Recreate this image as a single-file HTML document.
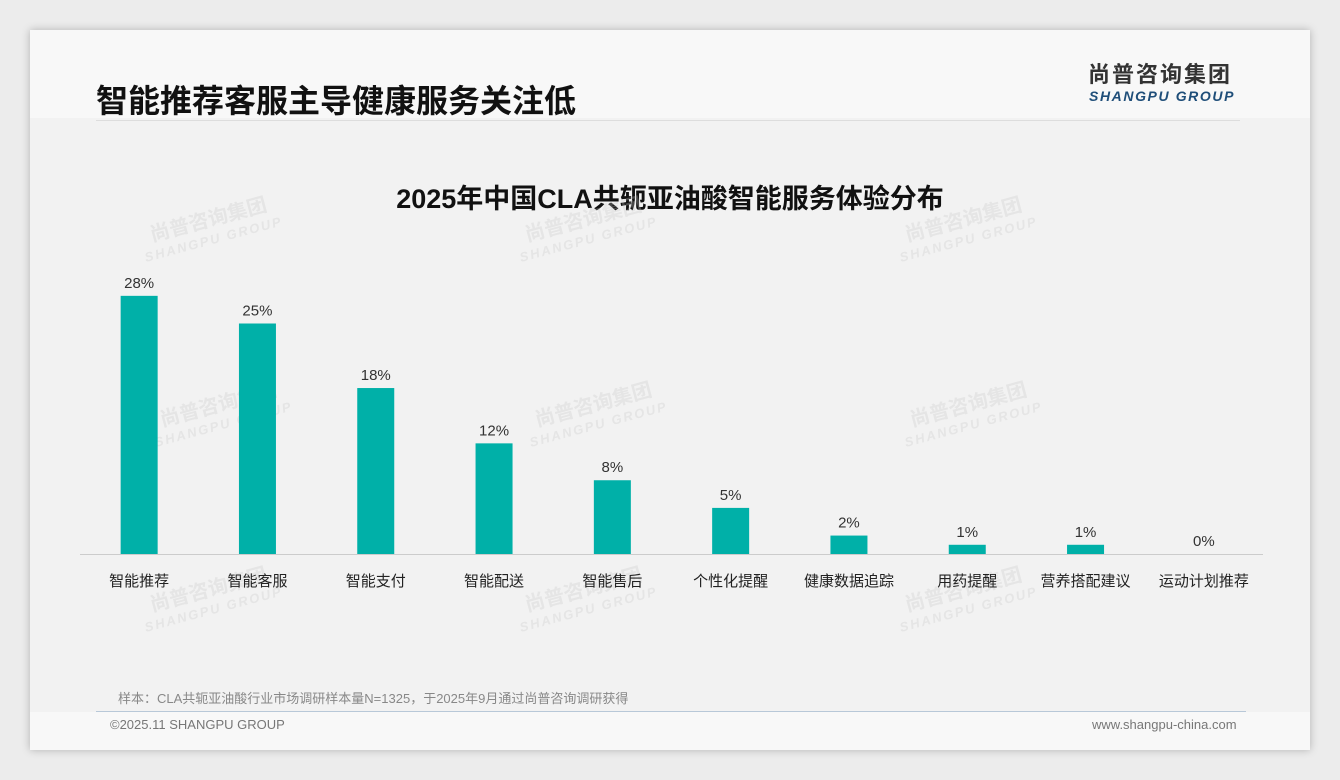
<!DOCTYPE html>
<html><head><meta charset="utf-8">
<style>
body{margin:0;width:1340px;height:780px;background:#ececec;font-family:"Liberation Sans","Noto Sans CJK SC",sans-serif;position:relative;overflow:hidden}
#card{position:absolute;left:30px;top:30px;width:1280px;height:720px;background:#f8f8f8;box-shadow:0 0 8px rgba(0,0,0,0.25)}
#panel{position:absolute;left:30px;top:118px;width:1280px;height:594px;background:#f2f2f2}
.abs{position:absolute}
.wm{position:absolute;color:rgba(200,200,200,0.3);font-weight:bold;transform:rotate(-15deg);font-size:20px;line-height:20px;text-align:center}
.wm span{display:block;font-size:13px;letter-spacing:2px;font-style:italic}
</style></head><body>
<div id="card"></div>
<div id="panel"></div>
<div class="abs" style="left:96px;top:76px;font-size:32px;font-weight:bold;color:#111">智能推荐客服主导健康服务关注低</div>
<div class="abs" style="left:1088px;top:60px;font-size:22px;line-height:30px;font-weight:bold;color:#333;letter-spacing:2px">尚普咨询集团</div>
<div class="abs" style="left:1089px;top:88px;font-size:14px;line-height:16px;font-weight:bold;font-style:italic;color:#1f4e79;letter-spacing:1.6px">SHANGPU GROUP</div>
<div class="abs" style="left:96px;top:120px;width:1144px;height:1px;background:#ddd"></div>
<div class="abs" style="left:0;width:1340px;top:177px;text-align:center;font-size:27px;font-weight:bold;color:#111">2025年中国CLA共轭亚油酸智能服务体验分布</div>
<div class="abs" style="left:118px;top:688px;font-size:13px;color:#888">样本：CLA共轭亚油酸行业市场调研样本量N=1325，于2025年9月通过尚普咨询调研获得</div>
<div class="abs" style="left:96px;top:711px;width:1150px;height:1px;background:#b8c8d8"></div>
<div class="abs" style="left:110px;top:717px;font-size:13px;color:#777">©2025.11 SHANGPU GROUP</div>
<div class="abs" style="left:1092px;top:717px;font-size:13px;color:#777">www.shangpu-china.com</div>
<div id="wms"></div>
<svg id="chart" class="abs" style="left:0;top:0" width="1340" height="780"></svg>
<script>
const categories=["智能推荐","智能客服","智能支付","智能配送","智能售后","个性化提醒","健康数据追踪","用药提醒","营养搭配建议","运动计划推荐"];
const values=[28,25,18,12,8,5,2,1,1,0];
const labels=["28%","25%","18%","12%","8%","5%","2%","1%","1%","0%"];
const ns="http://www.w3.org/2000/svg";
const svg=document.getElementById('chart');
const x0=80,x1=1263,base=554,pxPer=9.22,bw=37;
const step=(x1-x0)/categories.length;
const xs=i=>x0+step*(i+0.5);
const ys=v=>base-v*pxPer;
function mk(t,a){const e=document.createElementNS(ns,t);for(const k in a)e.setAttribute(k,a[k]);svg.appendChild(e);return e;}
categories.forEach((c,i)=>{
 const v=values[i];
 const r=mk('rect',{x:xs(i)-bw/2,y:ys(v),width:bw,height:base-ys(v),fill:'#00b0a8'});
 
 
 const t=mk('text',{x:xs(i),y:ys(v)-8,'text-anchor':'middle','font-size':15,fill:'#333'});
 t.textContent=labels[i];
 
 
 const l=mk('text',{x:xs(i),y:586,'text-anchor':'middle','font-size':15,fill:'#222'});
 l.textContent=c;
 
 
});
const ax=mk('line',{x1:x0,x2:x1,y1:base+0.5,y2:base+0.5,stroke:'#ccc'});


const wm=document.getElementById('wms');
[[140,210],[515,210],[895,210],[150,395],[525,395],[900,395],[140,580],[515,580],[895,580]].forEach(p=>{
 const d=document.createElement('div');d.className='wm';d.style.left=p[0]+'px';d.style.top=p[1]+'px';
 d.innerHTML='尚普咨询集团<span>SHANGPU GROUP</span>';
 
 
 wm.appendChild(d);
});
</script>
</body></html>
